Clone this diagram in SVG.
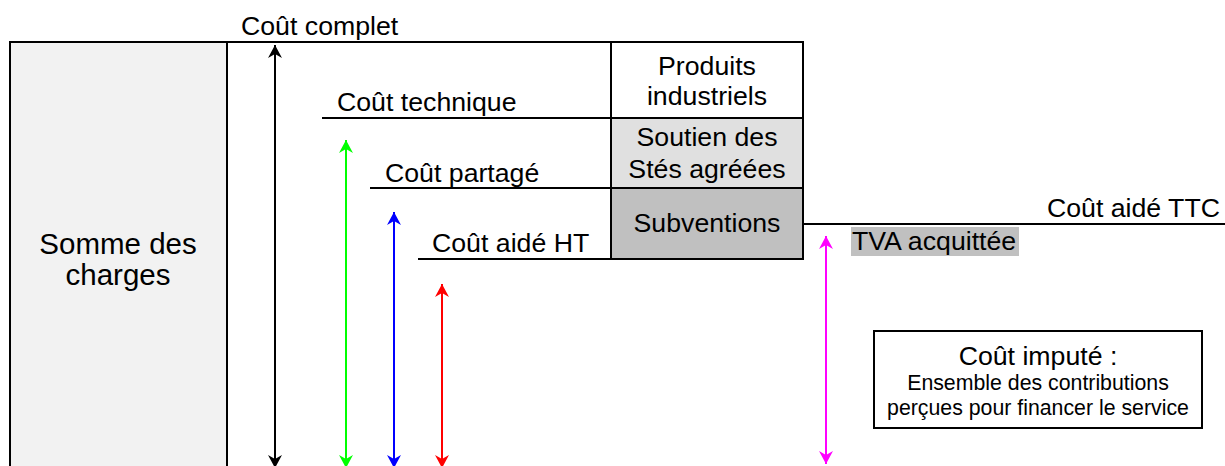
<svg xmlns="http://www.w3.org/2000/svg" width="1225" height="466" viewBox="0 0 1225 466">
<style>
text{font-family:"Liberation Sans",Arial,sans-serif;font-size:26.7px;fill:#000}
.c{text-anchor:middle}
.e{text-anchor:end}
.s{font-size:21.3px}
.big{font-size:29.5px}
.ln{stroke:#000;stroke-width:2;fill:none}
.bx{stroke:#000;stroke-width:2}
.ar{stroke-width:2;fill:none}
</style>
<defs>
<marker id="mk" markerUnits="userSpaceOnUse" markerWidth="14" markerHeight="14" refX="13" refY="7" orient="auto-start-reverse" viewBox="0 0 14 14"><path d="M0,0 L13,7 L0,14 L4,7 Z" fill="#000"/></marker>
<marker id="mg" markerUnits="userSpaceOnUse" markerWidth="14" markerHeight="14" refX="13" refY="7" orient="auto-start-reverse" viewBox="0 0 14 14"><path d="M0,0 L13,7 L0,14 L4,7 Z" fill="#00ff00"/></marker>
<marker id="mb" markerUnits="userSpaceOnUse" markerWidth="14" markerHeight="14" refX="13" refY="7" orient="auto-start-reverse" viewBox="0 0 14 14"><path d="M0,0 L13,7 L0,14 L4,7 Z" fill="#0000ff"/></marker>
<marker id="mr" markerUnits="userSpaceOnUse" markerWidth="14" markerHeight="14" refX="13" refY="7" orient="auto-start-reverse" viewBox="0 0 14 14"><path d="M0,0 L13,7 L0,14 L4,7 Z" fill="#ff0000"/></marker>
<marker id="mm" markerUnits="userSpaceOnUse" markerWidth="14" markerHeight="14" refX="13" refY="7" orient="auto-start-reverse" viewBox="0 0 14 14"><path d="M0,0 L13,7 L0,14 L4,7 Z" fill="#ff00ff"/></marker>
</defs>
<rect width="1225" height="466" fill="#fff"/>

<g id="somme">
<rect x="10" y="42" width="217" height="440" fill="#f2f2f2" class="bx"/>
<text class="c big" x="118" y="254">Somme des</text>
<text class="c big" x="118" y="285">charges</text>
</g>

<g id="levels">
<line class="ln" x1="227" y1="42" x2="611" y2="42"/>
<line class="ln" x1="322" y1="118" x2="611" y2="118"/>
<line class="ln" x1="370" y1="188" x2="611" y2="188"/>
<line class="ln" x1="418" y1="259" x2="611" y2="259"/>
<line class="ln" x1="803" y1="224" x2="1225" y2="224"/>
<text x="241" y="35">Coût complet</text>
<text x="337" y="111">Coût technique</text>
<text x="385" y="182">Coût partagé</text>
<text x="432" y="252">Coût aidé HT</text>
<text class="e" x="1220" y="217">Coût aidé TTC</text>
</g>

<g id="produits">
<rect x="611" y="42" width="192" height="76" fill="#fff" class="bx"/>
<text class="c" x="707" y="75">Produits</text>
<text class="c" x="707" y="105">industriels</text>
</g>
<g id="soutien">
<rect x="611" y="118" width="192" height="70" fill="#e0e0e0" class="bx"/>
<text class="c" x="707" y="146">Soutien des</text>
<text class="c" x="707" y="178">Stés agréées</text>
</g>
<g id="subventions">
<rect x="611" y="188" width="192" height="71" fill="#c0c0c0" class="bx"/>
<text class="c" x="707" y="232">Subventions</text>
</g>

<g id="tva">
<rect x="851" y="227" width="168" height="29" fill="#c0c0c0"/>
<text x="852" y="250">TVA acquittée</text>
</g>

<g id="impute">
<rect x="874" y="331" width="328" height="97" fill="#fff" class="bx"/>
<text class="c" x="1038" y="365">Coût imputé :</text>
<text class="c s" x="1038" y="390">Ensemble des contributions</text>
<text class="c s" x="1038" y="415">perçues pour financer le service</text>
</g>

<g id="connectors">
<line class="ar" stroke="#000" x1="275" y1="45" x2="275" y2="468" marker-start="url(#mk)" marker-end="url(#mk)"/>
<line class="ar" stroke="#00ff00" x1="346" y1="140" x2="346" y2="468" marker-start="url(#mg)" marker-end="url(#mg)"/>
<line class="ar" stroke="#0000ff" x1="394" y1="212" x2="394" y2="468" marker-start="url(#mb)" marker-end="url(#mb)"/>
<line class="ar" stroke="#ff0000" x1="442" y1="284" x2="442" y2="468" marker-start="url(#mr)" marker-end="url(#mr)"/>
<line class="ar" stroke="#ff00ff" x1="826" y1="236" x2="826" y2="464" marker-start="url(#mm)" marker-end="url(#mm)"/>
</g>
</svg>
